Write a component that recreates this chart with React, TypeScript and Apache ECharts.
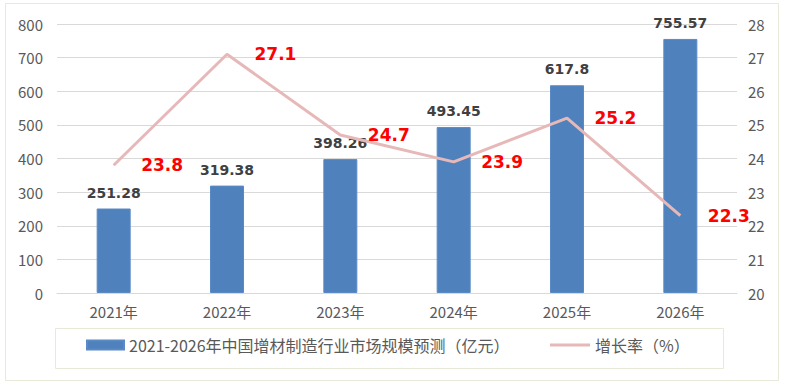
import React, { useEffect, useRef } from "react";
import * as echarts from "echarts";

const categories = ["2021年", "2022年", "2023年", "2024年", "2025年", "2026年"];
const marketSize = [251.28, 319.38, 398.26, 493.45, 617.8, 755.57];
const growthRate = [23.8, 27.1, 24.7, 23.9, 25.2, 22.3];
const barName = "2021-2026年中国增材制造行业市场规模预测（亿元）";
const lineName = "增长率（%）";

const CJK = "'Noto Sans CJK SC', 'Liberation Sans', sans-serif";
const BOLD = "'DejaVu Sans', 'Liberation Sans', sans-serif";

export default function App() {
  const ref = useRef<HTMLDivElement>(null);
  useEffect(() => {
    if (!ref.current) return;
    const chart = echarts.init(ref.current, undefined, { renderer: "svg" });
    chart.setOption({
      animation: false,
      backgroundColor: "#ffffff",
      textStyle: { fontFamily: CJK },
      graphic: [
        {
          type: "rect",
          shape: { x: 5.5, y: 3.5, width: 773, height: 377 },
          style: { fill: "none", stroke: "#E9E9DA", lineWidth: 1 },
          silent: true,
        },
        {
          type: "rect",
          shape: { x: 55.5, y: 328.5, width: 668, height: 40 },
          style: { fill: "none", stroke: "#E9E9DA", lineWidth: 1 },
          silent: true,
        },
      ],
      grid: { left: 57, right: 49, top: 24, bottom: 94, containLabel: false },
      legend: [
        {
          data: [{ name: barName, icon: "rect" }],
          left: 86,
          top: 337,
          padding: 0,
          itemWidth: 37,
          itemHeight: 9,
          itemGap: 5,
          textStyle: { fontSize: 16, color: "#595959", fontFamily: CJK },
        },
        {
          data: [{ name: lineName, icon: "rect", itemStyle: { color: "#E6B9B8" } }],
          left: 550,
          top: 337,
          padding: 0,
          itemWidth: 40,
          itemHeight: 3,
          textStyle: { fontSize: 16, color: "#595959", fontFamily: CJK },
        },
      ],
      xAxis: {
        type: "category",
        data: categories,
        axisTick: { show: false },
        axisLine: { lineStyle: { color: "#D9D9D9", width: 1 } },
        axisLabel: { color: "#595959", fontSize: 15, margin: 11, fontFamily: CJK },
      },
      yAxis: [
        {
          type: "value",
          min: 0,
          max: 800,
          interval: 100,
          axisLine: { show: false },
          axisTick: { show: false },
          splitLine: { lineStyle: { color: "#D9D9D9", width: 1 } },
          axisLabel: { color: "#595959", fontSize: 15, margin: 14, fontFamily: CJK },
        },
        {
          type: "value",
          min: 20,
          max: 28,
          interval: 1,
          axisLine: { show: false },
          axisTick: { show: false },
          splitLine: { show: false },
          axisLabel: { color: "#595959", fontSize: 15, margin: 11, fontFamily: CJK },
        },
      ],
      series: [
        {
          name: barName,
          type: "bar",
          data: marketSize,
          barWidth: 34,
          itemStyle: { color: "#4F81BD", borderColor: "#5A8AC6", borderWidth: 1 },
          label: {
            show: true,
            position: "top",
            distance: 9,
            color: "#404040",
            fontSize: 14,
            fontWeight: "bold",
            fontFamily: BOLD,
          },
        },
        {
          name: lineName,
          type: "line",
          yAxisIndex: 1,
          data: growthRate,
          symbol: "circle",
          symbolSize: 1,
          showSymbol: true,
          lineStyle: { color: "#E6B9B8", width: 3 },
          itemStyle: { color: "rgba(230,185,184,0)" },
          label: {
            show: true,
            position: "right",
            distance: 27,
            color: "#FF0000",
            fontSize: 17,
            fontWeight: "bold",
            fontFamily: BOLD,
          },
        },
      ],
    });
    return () => chart.dispose();
  }, []);
  return (
    <div
      ref={ref}
      style={{ position: "fixed", left: 0, top: 0, width: 786, height: 387 }}
    />
  );
}
